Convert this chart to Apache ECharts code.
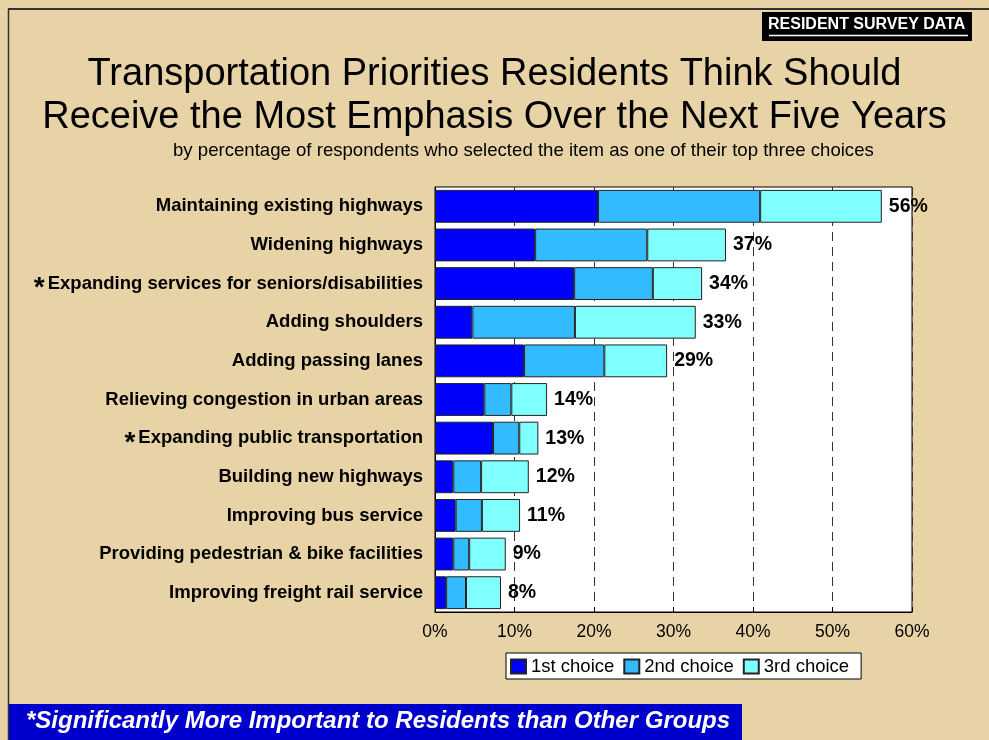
<!DOCTYPE html>
<html><head><meta charset="utf-8">
<script src="https://cdn.jsdelivr.net/npm/echarts@6/dist/echarts.min.js"></script>
<style>html,body{margin:0;padding:0;background:#e7d3a6}#c{width:989px;height:740px}</style>
</head><body><div id="c"></div>
<script>
const categories = [
  'Maintaining existing highways',
  'Widening highways',
  '*Expanding services for seniors/disabilities',
  'Adding shoulders',
  'Adding passing lanes',
  'Relieving congestion in urban areas',
  '*Expanding public transportation',
  'Building new highways',
  'Improving bus service',
  'Providing pedestrian & bike facilities',
  'Improving freight rail service'
];
const firstChoice  = [20.5, 12.6, 17.5, 4.7, 11.2, 6.2, 7.3, 2.3, 2.6, 2.3, 1.4];
const secondChoice = [20.4, 14.1, 9.9, 12.9, 10.1, 3.4, 3.3, 3.5, 3.3, 2.0, 2.5];
const thirdChoice  = [15.3, 9.9, 6.2, 15.2, 7.9, 4.5, 2.4, 6.0, 4.8, 4.6, 4.4];
const totalLabels  = ['56%', '37%', '34%', '33%', '29%', '14%', '13%', '12%', '11%', '9%', '8%'];
const tickValues   = [0, 10, 20, 30, 40, 50, 60];

const FONT = '"Liberation Sans", Arial, sans-serif';
const chart = echarts.init(document.getElementById('c'));
const barBorder = { borderColor: '#222', borderWidth: 1 };
chart.setOption({
  backgroundColor: '#e7d3a6',
  animation: false,
  title: [
    { text: 'Transportation Priorities Residents Think Should\nReceive the Most Emphasis Over the Next Five Years',
      left: 'center', top: 48,
      textStyle: { fontFamily: FONT, fontSize: 38, fontWeight: 'normal', lineHeight: 43, color: '#000' } },
    { text: 'by percentage of respondents who selected the item as one of their top three choices',
      left: 168, top: 136,
      textStyle: { fontFamily: FONT, fontSize: 18.6, fontWeight: 'normal', color: '#000' } }
  ],
  graphic: [
    { type: 'line', shape: { x1: 8, y1: 9, x2: 989, y2: 9 }, style: { stroke: '#333', lineWidth: 2 } },
    { type: 'line', shape: { x1: 8.5, y1: 9, x2: 8.5, y2: 740 }, style: { stroke: '#333', lineWidth: 1.5 } },
    { type: 'rect', shape: { x: 762, y: 12, width: 210, height: 29 }, style: { fill: '#000' } },
    { type: 'text', left: 768, top: 17, style: { text: 'RESIDENT SURVEY DATA', fill: '#fff', font: 'bold 16px "Liberation Sans", Arial, sans-serif' } },
    { type: 'line', shape: { x1: 769, y1: 35.5, x2: 968, y2: 35.5 }, style: { stroke: '#fff', lineWidth: 1.5 } },
    { type: 'rect', shape: { x: 9, y: 704, width: 733, height: 36 }, style: { fill: '#0000cc' } },
    { type: 'text', left: 26, top: 709, style: { text: '*Significantly More Important to Residents than Other Groups', fill: '#fff', font: 'italic bold 24px "Liberation Sans", Arial, sans-serif' } }
  ],
  legend: {
    data: ['1st choice', '2nd choice', '3rd choice'],
    left: 506, top: 653,
    backgroundColor: '#fff', borderColor: '#000', borderWidth: 1,
    padding: [4, 12, 3, 4], itemGap: 9, itemWidth: 15, itemHeight: 14,
    icon: 'rect',
    textStyle: { fontSize: 18.5, color: '#000', fontFamily: FONT, padding: [0, 0, 0, 0] }
  },
  grid: { left: 435, top: 187, width: 477, height: 425, show: true, backgroundColor: '#fff', borderColor: '#000', borderWidth: 1 },
  xAxis: {
    type: 'value', min: 0, max: 60, interval: 10,
    axisLine: { show: true, lineStyle: { color: '#000' } },
    axisTick: { show: true, length: 5, inside: true, lineStyle: { color: '#000' } },
    axisLabel: { formatter: v => tickValues.includes(v) ? v + '%' : '', fontSize: 17.5, color: '#000', margin: 11, fontFamily: FONT },
    splitLine: { show: true, lineStyle: { color: '#333', type: [9, 6], width: 1 } }
  },
  yAxis: {
    type: 'category', data: categories, inverse: true,
    axisLine: { show: true, lineStyle: { color: '#000' } },
    axisTick: { show: false },
    axisLabel: {
      margin: 12, fontSize: 18.5, fontWeight: 'bold', color: '#000', fontFamily: FONT,
      formatter: v => v.startsWith('*') ? '{star|*}' + v.slice(1) : v,
      rich: { star: { fontSize: 28, fontWeight: 'bold', color: '#000', padding: [10, 3, 0, 0], fontFamily: FONT } }
    }
  },
  series: [
    { name: '1st choice', type: 'bar', stack: 't', data: firstChoice, barCategoryGap: '15%', itemStyle: Object.assign({ color: '#0000ff' }, barBorder) },
    { name: '2nd choice', type: 'bar', stack: 't', data: secondChoice, itemStyle: Object.assign({ color: '#33bbff' }, barBorder) },
    { name: '3rd choice', type: 'bar', stack: 't', data: thirdChoice, itemStyle: Object.assign({ color: '#80ffff' }, barBorder),
      label: { show: true, position: 'right', distance: 7, formatter: p => totalLabels[p.dataIndex], fontSize: 19.5, fontWeight: 'bold', color: '#000', fontFamily: FONT } }
  ]
});
</script></body></html>
